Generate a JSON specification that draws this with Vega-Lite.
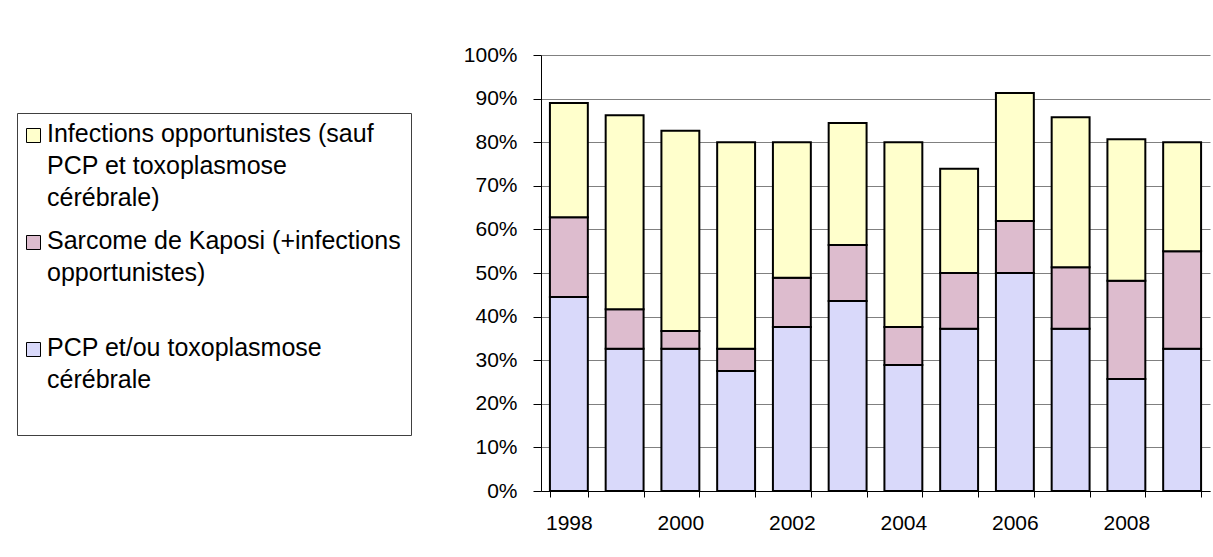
{
  "$schema": "https://vega.github.io/schema/vega-lite/v6.json",
  "width": 669,
  "height": 436,
  "autosize": {"type": "none"},
  "padding": {"left": 541, "top": 55, "right": 3, "bottom": 66},
  "background": "white",
  "config": {"view": {"stroke": null}, "font": "Liberation Sans"},
  "data": {"values": [
    {"year": 1998, "cat": "PCP et/ou toxoplasmose cérébrale", "pct": 44.5},
    {"year": 1998, "cat": "Sarcome de Kaposi (+infections opportunistes)", "pct": 18.3},
    {"year": 1998, "cat": "Infections opportunistes (sauf PCP et toxoplasmose cérébrale)", "pct": 26.2},
    {"year": 1999, "cat": "PCP et/ou toxoplasmose cérébrale", "pct": 32.6},
    {"year": 1999, "cat": "Sarcome de Kaposi (+infections opportunistes)", "pct": 9.1},
    {"year": 1999, "cat": "Infections opportunistes (sauf PCP et toxoplasmose cérébrale)", "pct": 44.5},
    {"year": 2000, "cat": "PCP et/ou toxoplasmose cérébrale", "pct": 32.6},
    {"year": 2000, "cat": "Sarcome de Kaposi (+infections opportunistes)", "pct": 4.1},
    {"year": 2000, "cat": "Infections opportunistes (sauf PCP et toxoplasmose cérébrale)", "pct": 45.9},
    {"year": 2001, "cat": "PCP et/ou toxoplasmose cérébrale", "pct": 27.5},
    {"year": 2001, "cat": "Sarcome de Kaposi (+infections opportunistes)", "pct": 5.1},
    {"year": 2001, "cat": "Infections opportunistes (sauf PCP et toxoplasmose cérébrale)", "pct": 47.4},
    {"year": 2002, "cat": "PCP et/ou toxoplasmose cérébrale", "pct": 37.6},
    {"year": 2002, "cat": "Sarcome de Kaposi (+infections opportunistes)", "pct": 11.3},
    {"year": 2002, "cat": "Infections opportunistes (sauf PCP et toxoplasmose cérébrale)", "pct": 31.1},
    {"year": 2003, "cat": "PCP et/ou toxoplasmose cérébrale", "pct": 43.6},
    {"year": 2003, "cat": "Sarcome de Kaposi (+infections opportunistes)", "pct": 12.8},
    {"year": 2003, "cat": "Infections opportunistes (sauf PCP et toxoplasmose cérébrale)", "pct": 28.0},
    {"year": 2004, "cat": "PCP et/ou toxoplasmose cérébrale", "pct": 28.9},
    {"year": 2004, "cat": "Sarcome de Kaposi (+infections opportunistes)", "pct": 8.7},
    {"year": 2004, "cat": "Infections opportunistes (sauf PCP et toxoplasmose cérébrale)", "pct": 42.4},
    {"year": 2005, "cat": "PCP et/ou toxoplasmose cérébrale", "pct": 37.2},
    {"year": 2005, "cat": "Sarcome de Kaposi (+infections opportunistes)", "pct": 12.8},
    {"year": 2005, "cat": "Infections opportunistes (sauf PCP et toxoplasmose cérébrale)", "pct": 23.9},
    {"year": 2006, "cat": "PCP et/ou toxoplasmose cérébrale", "pct": 50.0},
    {"year": 2006, "cat": "Sarcome de Kaposi (+infections opportunistes)", "pct": 11.9},
    {"year": 2006, "cat": "Infections opportunistes (sauf PCP et toxoplasmose cérébrale)", "pct": 29.4},
    {"year": 2007, "cat": "PCP et/ou toxoplasmose cérébrale", "pct": 37.2},
    {"year": 2007, "cat": "Sarcome de Kaposi (+infections opportunistes)", "pct": 14.1},
    {"year": 2007, "cat": "Infections opportunistes (sauf PCP et toxoplasmose cérébrale)", "pct": 34.4},
    {"year": 2008, "cat": "PCP et/ou toxoplasmose cérébrale", "pct": 25.7},
    {"year": 2008, "cat": "Sarcome de Kaposi (+infections opportunistes)", "pct": 22.5},
    {"year": 2008, "cat": "Infections opportunistes (sauf PCP et toxoplasmose cérébrale)", "pct": 32.5},
    {"year": 2009, "cat": "PCP et/ou toxoplasmose cérébrale", "pct": 32.6},
    {"year": 2009, "cat": "Sarcome de Kaposi (+infections opportunistes)", "pct": 22.4},
    {"year": 2009, "cat": "Infections opportunistes (sauf PCP et toxoplasmose cérébrale)", "pct": 25.0}
  ]},
  "transform": [
    {"calculate": "indexof(['PCP et/ou toxoplasmose cérébrale', 'Sarcome de Kaposi (+infections opportunistes)', 'Infections opportunistes (sauf PCP et toxoplasmose cérébrale)'], datum.cat)", "as": "stackRank"}
  ],
  "mark": {"type": "bar", "stroke": "black", "strokeWidth": 2},
  "encoding": {
    "x": {
      "field": "year", "type": "ordinal",
      "scale": {"paddingInner": 0.32, "paddingOuter": 0.16},
      "axis": {
        "title": null, "labelAngle": 0, "tickBand": "extent",
        "labelExpr": "datum.value % 2 == 0 ? datum.label : ''",
        "labelFontSize": 21, "labelColor": "black", "labelPadding": 15,
        "tickSize": 6, "tickColor": "black", "domainColor": "black"
      }
    },
    "y": {
      "field": "pct", "type": "quantitative", "stack": "zero",
      "scale": {"domain": [0, 100]},
      "axis": {
        "title": null, "values": [0, 10, 20, 30, 40, 50, 60, 70, 80, 90, 100],
        "labelExpr": "datum.value + '%'",
        "labelFontSize": 21, "labelColor": "black", "labelPadding": 16,
        "tickSize": 8, "tickColor": "black", "domainColor": "black",
        "gridColor": "#808080", "gridWidth": 1, "gridOpacity": 1
      }
    },
    "order": {"field": "stackRank", "type": "quantitative", "sort": "ascending"},
    "color": {
      "field": "cat", "type": "nominal",
      "sort": [
        "Infections opportunistes (sauf PCP et toxoplasmose cérébrale)",
        "Sarcome de Kaposi (+infections opportunistes)",
        "PCP et/ou toxoplasmose cérébrale"
      ],
      "scale": {"range": ["#FFFFCC", "#DDBCCE", "#D9D9FA"]},
      "legend": {
        "orient": "none", "legendX": -524, "legendY": 58,
        "title": null, "strokeColor": "#404040", "fillColor": "white", "padding": 10,
        "labelFontSize": 25, "labelColor": "black", "labelLimit": 0, "labelOffset": 1,
        "symbolType": "square", "symbolSize": 196, "symbolOffset": -6, "symbolStrokeColor": "black", "symbolStrokeWidth": 1, "symbolOpacity": 1,
        "rowPadding": 17, "gridAlign": "each", "labelBaseline": "top",
        "labelExpr": "indexof(datum.label, 'Sarcome') == 0 ? ['Sarcome de Kaposi (+infections', 'opportunistes)', ''] : indexof(datum.label, 'PCP') == 0 ? ['PCP et/ou toxoplasmose', 'cérébrale', ''] : ['Infections opportunistes (sauf', 'PCP et toxoplasmose', 'cérébrale)']",
        "encode": {"labels": {"update": {"lineHeight": {"value": 32}, "dy": {"value": -14}}}}
      }
    }
  }
}
